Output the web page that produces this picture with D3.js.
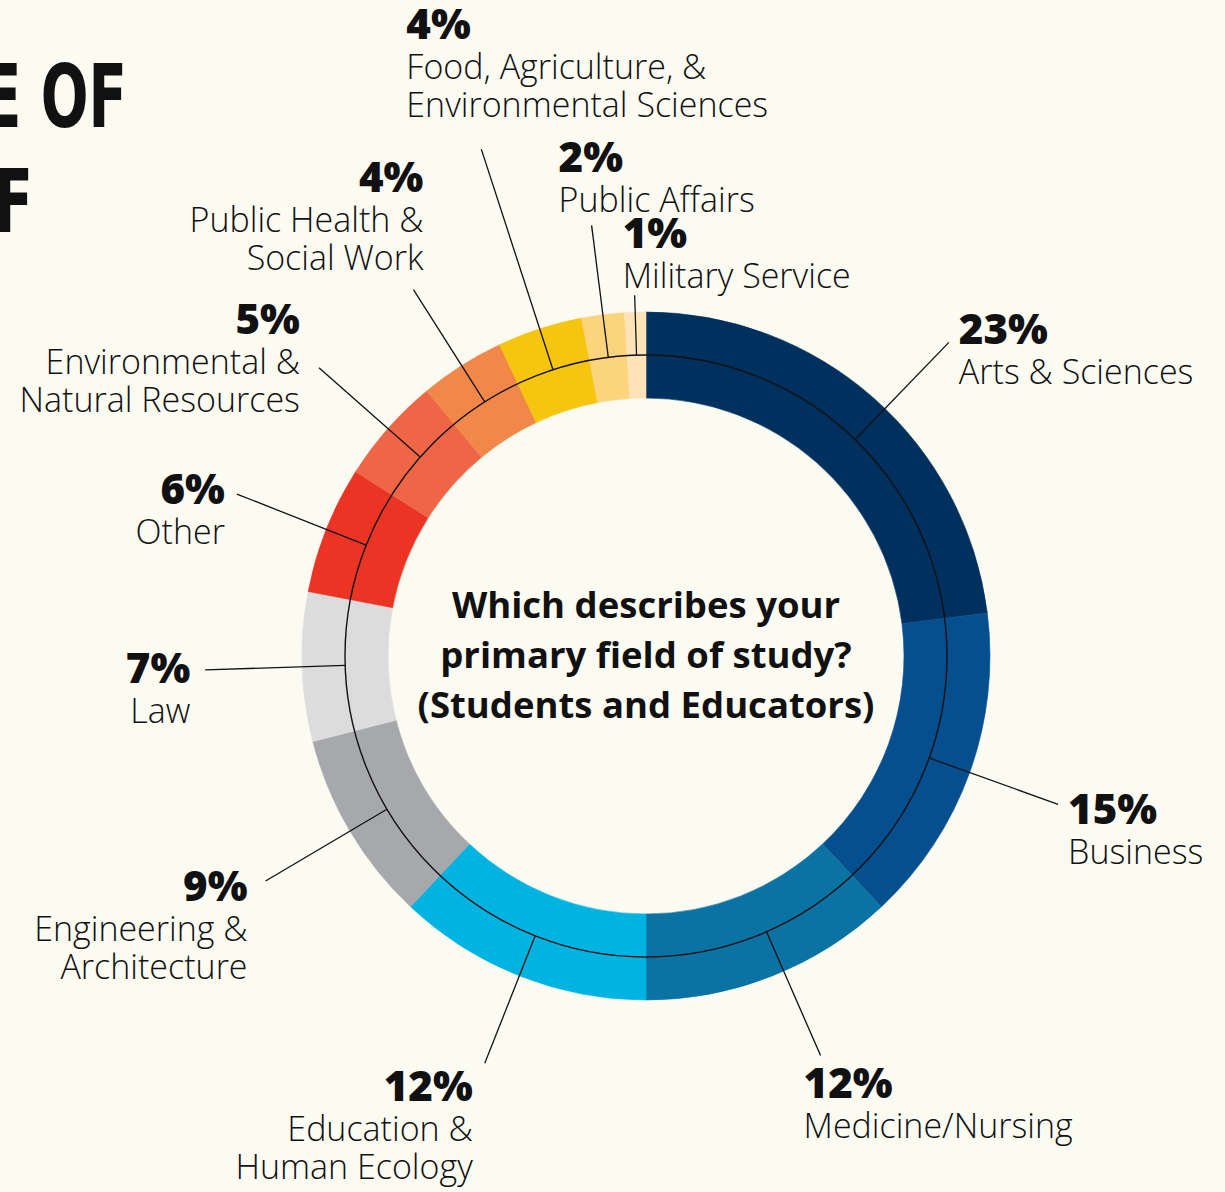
<!DOCTYPE html>
<html>
<head>
<meta charset="utf-8">
<script src="https://cdn.jsdelivr.net/npm/d3@7"></script>
<style>
  body { margin: 0; background: #fbfbf2; }
  svg { display: block; }
  .pct { font-family: "Open Sans", sans-serif; font-weight: 800; font-size: 42px; fill: #111; }
  .name { font-family: "Open Sans", sans-serif; font-weight: 300; font-size: 34px; fill: #111; }
  .center { font-family: "Open Sans", sans-serif; font-weight: 700; font-size: 36.5px; fill: #111; }
  .title { font-family: "Liberation Sans Narrow", "DejaVu Sans Condensed", sans-serif; font-weight: 700; font-size: 88px; fill: #111; }
</style>
</head>
<body>
<script>
// survey: primary field of study
const categories = ['Arts & Sciences', 'Business', 'Medicine/Nursing', 'Education & Human Ecology',
  'Engineering & Architecture', 'Law', 'Other', 'Environmental & Natural Resources',
  'Public Health & Social Work', 'Food, Agriculture, & Environmental Sciences', 'Public Affairs', 'Military Service']
const values = [23, 15, 12, 12, 9, 7, 6, 5, 4, 4, 2, 1]
const nameLines = [
  ['Arts & Sciences'], ['Business'], ['Medicine/Nursing'], ['Education &', 'Human Ecology'],
  ['Engineering &', 'Architecture'], ['Law'], ['Other'], ['Environmental &', 'Natural Resources'],
  ['Public Health &', 'Social Work'], ['Food, Agriculture, &', 'Environmental Sciences'],
  ['Public Affairs'], ['Military Service']
]
const colors = ['#00305e', '#064f8e', '#0b72a4', '#00b3e1', '#a6a8ab', '#dcdcdc',
  '#ec3424', '#ef6646', '#f2874a', '#f6c50f', '#fcd47e', '#fde3b5']
const question = ['Which describes your', 'primary field of study?', '(Students and Educators)']

// label layout: leader radius, angle nudge (deg), anchor, offset of pct baseline from leader end
const layout = [
  {r: 436, da: 2.6, anchor: 'start', dx: 10, dy: 2},
  {r: 438, da: 0, anchor: 'start', dx: 10, dy: 20},
  {r: 436, da: -2, anchor: 'start', dx: -17, dy: 42},
  {r: 438, da: 0, anchor: 'end', dx: -12, dy: 38},
  {r: 442, da: 0, anchor: 'end', dx: -18, dy: 20},
  {r: 441, da: 0, anchor: 'end', dx: -15, dy: 13},
  {r: 440, da: 0, anchor: 'end', dx: -12, dy: 10},
  {r: 436, da: 0, anchor: 'end', dx: -19, dy: -34},
  {r: 434, da: 0, anchor: 'end', dx: 10, dy: -98},
  {r: 533, da: 0, anchor: 'start', dx: -75, dy: -110},
  {r: 434, da: 0, anchor: 'start', dx: -33, dy: -53},
  {r: 361, da: 0, anchor: 'start', dx: -12, dy: -47}
]

const svgw = 1225
const svgh = 1192
const cx = 646
const cy = 656
const outerR = 344
const innerR = 258
const midR = 301

const svg = d3.select('body').append('svg').attr('width', svgw).attr('height', svgh)
svg.append('rect').attr('width', svgw).attr('height', svgh).attr('fill', '#fbfbf2')

// cut-off page title
svg.append('g').attr('transform', 'translate(127,127) scale(0.71,1)')
  .append('text').attr('class', 'title').attr('text-anchor', 'end').text('E OF')
svg.append('g').attr('transform', 'translate(33,232) scale(0.71,1)')
  .append('text').attr('class', 'title').attr('text-anchor', 'end').text('F')

const pie = d3.pie().sort(null).value(d => d)
const arcs = pie(values)
const arc = d3.arc().innerRadius(innerR).outerRadius(outerR)

const g = svg.append('g').attr('transform', `translate(${cx},${cy})`)

g.selectAll('path.slice')
  .data(arcs)
  .enter()
  .append('path')
  .attr('class', 'slice')
  .attr('d', arc)
  .attr('fill', (d, i) => colors[i])
  .attr('stroke', (d, i) => colors[i])
  .attr('stroke-width', 0.6)

g.append('circle').attr('r', midR).attr('fill', 'none').attr('stroke', '#111').attr('stroke-width', 1.4)

const polar = (a, r) => [Math.sin(a) * r, -Math.cos(a) * r]

arcs.forEach((d, i) => {
  const L = layout[i]
  const a = (d.startAngle + d.endAngle) / 2 + L.da * Math.PI / 180
  const p0 = polar(a, midR)
  const p1 = polar(a, L.r)
  g.append('line')
    .attr('x1', p0[0]).attr('y1', p0[1])
    .attr('x2', p1[0]).attr('y2', p1[1])
    .attr('stroke', '#111').attr('stroke-width', 1.3)

  const t = g.append('g').attr('transform', `translate(${p1[0] + L.dx},${p1[1] + L.dy})`)
  t.append('text').attr('class', 'pct').attr('text-anchor', L.anchor).text(values[i] + '%')
  nameLines[i].forEach((line, j) => {
    t.append('text').attr('class', 'name').attr('text-anchor', L.anchor)
      .attr('y', 40 + j * 38).text(line)
  })
})

question.forEach((line, i) => {
  g.append('text').attr('class', 'center').attr('text-anchor', 'middle')
    .attr('y', -38 + i * 50).text(line)
})
</script>
</body>
</html>
